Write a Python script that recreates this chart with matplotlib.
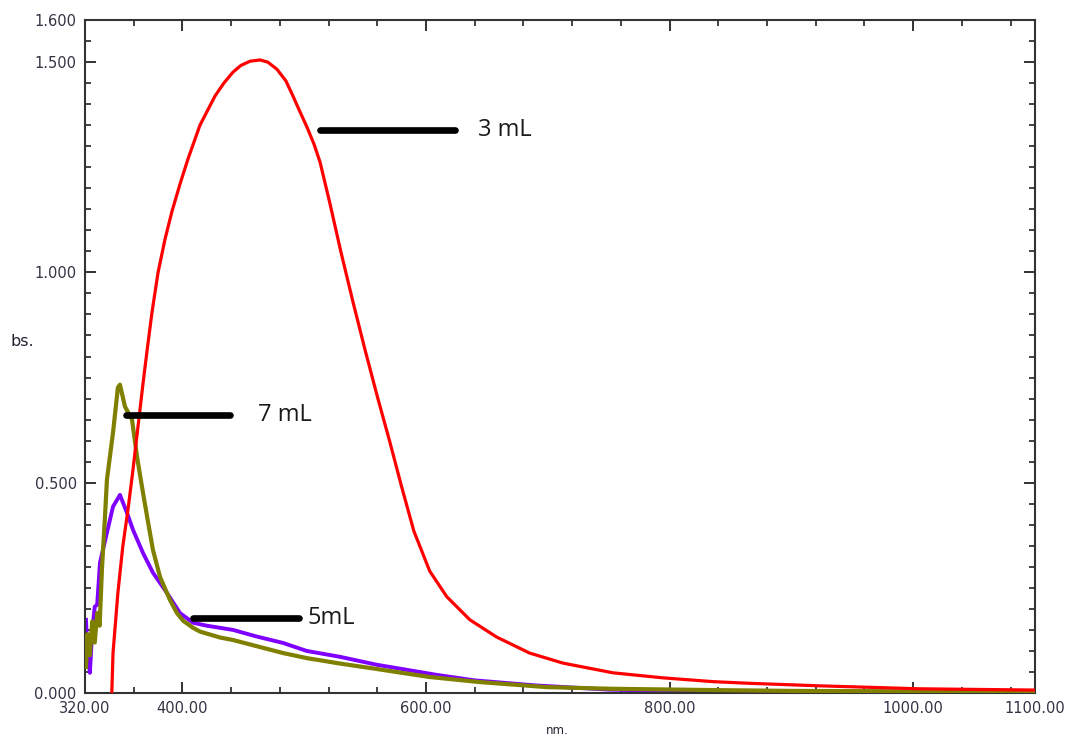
import matplotlib
matplotlib.use("Agg")
import matplotlib.pyplot as plt
import numpy as np

# wavelength (nm) / absorbance
red_nm = [341.5, 342, 343, 347, 351, 355.3, 359.4, 363.5, 367.6, 371, 375, 380, 385.7,
          391.4, 398, 404.6, 414.4, 426.7, 434, 441.5, 448, 455.5, 463.7, 470, 477.6,
          485, 490.8, 496, 502.3, 508, 513, 521, 530, 540, 550, 560, 570, 580, 590,
          603, 617, 636, 658, 685, 712.5, 753.5, 794.6, 835.6, 866, 923.5, 1005, 1100]
red_abs = [-0.05, 0.0, 0.095, 0.238, 0.348, 0.436, 0.531, 0.633, 0.735, 0.815, 0.905, 1.000,
           1.079, 1.145, 1.210, 1.270, 1.350, 1.419, 1.450, 1.476, 1.492, 1.502, 1.505,
           1.500, 1.483, 1.455, 1.419, 1.385, 1.345, 1.305, 1.262, 1.165, 1.050, 0.930,
           0.815, 0.705, 0.600, 0.490, 0.385, 0.290, 0.229, 0.174, 0.133, 0.095, 0.071,
           0.048, 0.036, 0.027, 0.023, 0.017, 0.010, 0.007]

olive_nm = [320.8, 322, 324, 326, 328, 330, 332, 334, 336.4, 338, 343, 347, 348.7, 352.8,
            358.6, 362.7, 366.8, 371, 375.8, 381.6, 389.8, 395.5, 400.5, 408.7, 414.4,
            430.8, 441.5, 460, 482.6, 502, 529.4, 559.8, 580, 603, 644, 699, 753.5,
            835.6, 900, 1000, 1100]
olive_abs = [0.062, 0.14, 0.09, 0.17, 0.12, 0.19, 0.16, 0.30, 0.419, 0.507, 0.619, 0.726,
             0.733, 0.681, 0.650, 0.562, 0.490, 0.419, 0.340, 0.276, 0.221, 0.190, 0.172,
             0.155, 0.146, 0.132, 0.126, 0.112, 0.095, 0.083, 0.070, 0.057, 0.048, 0.038,
             0.026, 0.014, 0.010, 0.007, 0.005, 0.004, 0.003]

purple_nm = [320.8, 322, 324, 326, 328, 330, 332.3, 338, 343, 348.7, 354.5, 359.4, 367.6,
             375.8, 387.3, 398, 408.7, 420, 441.5, 460, 482.6, 502, 529.4, 559.8, 609,
             640, 690, 750, 850, 950, 1100]
purple_abs = [0.174, 0.10, 0.048, 0.15, 0.205, 0.21, 0.31, 0.381, 0.443, 0.471, 0.428, 0.388,
              0.333, 0.286, 0.238, 0.190, 0.167, 0.160, 0.150, 0.135, 0.119, 0.100, 0.086,
              0.067, 0.043, 0.030, 0.018, 0.008, 0.002, 0.001, 0.0]

labels = ["3 mL", "7 mL", "5mL"]
label_lines = [(513, 624, 1.338), (354, 439, 0.662), (409, 496, 0.179)]
label_text_x = [643, 462, 503]

x_major = [320, 400, 600, 800, 1000, 1100]
x_minor = np.arange(360, 1100, 40)
y_major = [0.0, 0.5, 1.0, 1.5, 1.6]
y_minor = np.arange(0, 1.6001, 0.05)

fig = plt.figure(figsize=(10.67, 7.38), dpi=100)
ax = fig.add_axes([85 / 1067, 45 / 738, 950 / 1067, 673 / 738])

ax.plot(purple_nm, purple_abs, color="#8000ff", lw=2.8, zorder=2)
ax.plot(olive_nm, olive_abs, color="#808000", lw=3.0, zorder=3)
ax.plot(red_nm, red_abs, color="#ff0000", lw=2.3, zorder=4)

for lab, (x0, x1, y), tx in zip(labels, label_lines, label_text_x):
    ax.plot([x0, x1], [y, y], color="black", lw=4.8, solid_capstyle="round", zorder=5)
    ax.text(tx, y, lab, fontsize=17, family="Open Sans", color="#1a1a1a",
            va="center", ha="left")

ax.set_xlim(320, 1100)
ax.set_ylim(0, 1.6)
ax.set_xticks(x_major)
ax.set_xticklabels(["%.2f" % v for v in x_major])
ax.set_xticks([v for v in x_minor if v not in x_major], minor=True)
ax.set_yticks(y_major)
ax.set_yticklabels(["%.3f" % v for v in y_major])
ax.set_yticks([v for v in y_minor if min(abs(v - m) for m in y_major) > 1e-6], minor=True)

ax.tick_params(which="both", direction="in", top=True, right=True, color="#222222",
               labelsize=10.5, labelcolor="#333344")
ax.tick_params(which="major", length=8, width=1.3, pad=6)
ax.tick_params(which="minor", length=4, width=1.2)
for s in ax.spines.values():
    s.set_color("#333333")
    s.set_linewidth(1.5)

fig.text(10 / 1067, 1 - 342 / 738, "bs.", fontsize=11.5, color="#222233", va="center")
fig.text(557 / 1067, 1 - 730 / 738, "nm.", fontsize=8.5, color="#222233",
         ha="center", va="center")

fig.savefig("out.png", dpi=100)
